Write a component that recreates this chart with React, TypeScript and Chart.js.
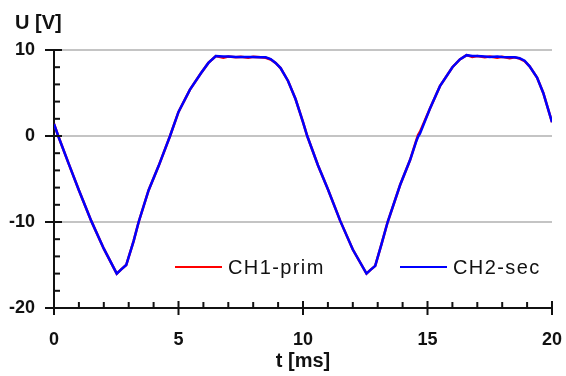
import { useEffect, useRef } from 'react';
import { Chart, registerables } from 'chart.js';

Chart.register(...registerables);

const timeMs = [
  0, 0.17, 0.6, 1.0, 1.5, 2.0, 2.52, 2.7, 2.9, 3.2, 3.4, 3.8, 4.2, 4.66, 5.0, 5.46, 5.9, 6.2, 6.5,
  6.8, 7.0, 7.3, 7.5, 7.8, 8.0, 8.3, 8.5, 8.7, 8.9, 9.1, 9.4, 9.7, 10.0, 10.17, 10.6, 11.0, 11.5, 12.0,
  12.55, 12.7, 12.9, 13.15, 13.4, 13.9, 14.3, 14.55, 14.62, 14.7, 15.1, 15.5, 16.0, 16.3, 16.57,
  16.8, 17.0, 17.3, 17.5, 17.8, 18.0, 18.3, 18.5, 18.7, 18.9, 19.1, 19.4, 19.65, 20.0,
];

const ch1Prim = [
  1.4, 0, -3.3, -6.3, -9.9, -13.1, -16.0, -15.5, -15.0, -12.2, -10.0, -6.3, -3.5, 0, 2.8, 5.4, 7.3, 8.5, 9.3,
  9.1, 9.25, 9.15, 9.2, 9.1, 9.2, 9.15, 9.1, 8.9, 8.5, 7.9, 6.4, 4.3, 1.6, 0, -3.4, -6.2, -9.9, -13.2,
  -16.0, -15.6, -15.1, -12.6, -10.0, -5.7, -2.8, -0.5, 0.1, 0.5, 3.2, 5.8, 8.0, 8.9, 9.4,
  9.2, 9.3, 9.15, 9.25, 9.1, 9.2, 9.05, 9.15, 9.0, 8.7, 8.1, 6.8, 5.0, 1.6,
];

const ch2Sec = [
  1.4, 0, -3.3, -6.3, -9.9, -13.1, -16.0, -15.5, -15.0, -12.2, -10.0, -6.3, -3.5, 0, 2.8, 5.4, 7.3, 8.5, 9.3,
  9.25, 9.25, 9.2, 9.2, 9.2, 9.2, 9.15, 9.15, 8.95, 8.5, 7.9, 6.4, 4.3, 1.6, 0, -3.4, -6.2, -9.9, -13.2,
  -16.0, -15.6, -15.1, -12.6, -10.0, -5.7, -2.8, -0.6, -0.1, 0.3, 3.2, 5.8, 8.0, 8.9, 9.4,
  9.3, 9.3, 9.25, 9.2, 9.25, 9.2, 9.15, 9.15, 9.05, 8.75, 8.1, 6.8, 5.0, 1.6,
];

const seriesLabels = ['CH1-prim', 'CH2-sec'];
const seriesColors = ['#ff0000', '#0000ff'];
const yMajorTicks = [-20, -10, 0, 10];
const yGridValues = [-10, 0, 10];
const xMajorTicks = [0, 5, 10, 15, 20];
const yTitle = 'U [V]';
const xTitle = 't [ms]';

const FONT = '"Liberation Sans", Arial, sans-serif';

const decorPlugin = {
  id: 'decor',
  afterDraw(chart: any) {
    const { ctx, chartArea, scales } = chart;
    const xs = scales.x;
    const ys = scales.y;
    ctx.save();
    ctx.strokeStyle = '#111';
    ctx.lineWidth = 2;
    ys.ticks.forEach((t: any) => {
      const py = ys.getPixelForValue(t.value);
      const major = yMajorTicks.includes(t.value);
      ctx.beginPath();
      ctx.moveTo(chartArea.left - (major ? 9 : 0), py);
      ctx.lineTo(chartArea.left + (major ? 8 : 6), py);
      ctx.stroke();
    });
    xs.ticks.forEach((t: any) => {
      const px = xs.getPixelForValue(t.value);
      const major = xMajorTicks.includes(t.value);
      ctx.beginPath();
      ctx.moveTo(px, chartArea.bottom + (major ? 7 : 0));
      ctx.lineTo(px, chartArea.bottom - (major ? 7 : 6));
      ctx.stroke();
    });

    ctx.fillStyle = '#111';
    ctx.font = `bold 20px ${FONT}`;
    ctx.textBaseline = 'middle';
    ctx.textAlign = 'left';
    ctx.fillText(yTitle, chartArea.left - 39, chartArea.top - 27);
    ctx.textAlign = 'center';
    ctx.fillText(xTitle, (chartArea.left + chartArea.right) / 2, chartArea.bottom + 53);

    // legend
    const ly = chartArea.bottom - 41;
    const starts = [chartArea.left + 121, chartArea.left + 346];
    ctx.font = `20px ${FONT}`;
    (ctx as any).letterSpacing = '1.4px';
    ctx.textAlign = 'left';
    chart.data.datasets.forEach((ds: any, i: number) => {
      const sx = starts[i];
      ctx.strokeStyle = ds.borderColor;
      ctx.lineWidth = 2;
      ctx.beginPath();
      ctx.moveTo(sx, ly);
      ctx.lineTo(sx + 47, ly);
      ctx.stroke();
      ctx.fillStyle = '#111';
      ctx.fillText(ds.label, sx + 53, ly + 1);
    });
    ctx.restore();
  },
};

export default function App() {
  const ref = useRef<HTMLCanvasElement | null>(null);
  useEffect(() => {
    if (!ref.current) return;
    const chart = new Chart(ref.current, {
      type: 'line',
      data: {
        datasets: [
          {
            label: seriesLabels[0],
            data: timeMs.map((t, i) => ({ x: t, y: ch1Prim[i] })),
            borderColor: seriesColors[0],
            borderWidth: 2.5,
            pointRadius: 0,
            tension: 0,
            order: 1,
          },
          {
            label: seriesLabels[1],
            data: timeMs.map((t, i) => ({ x: t, y: ch2Sec[i] })),
            borderColor: seriesColors[1],
            borderWidth: 2.5,
            pointRadius: 0,
            tension: 0,
            order: 0,
          },
        ],
      },
      options: {
        animation: false,
        responsive: false,
        layout: { padding: { top: 50, right: 14, left: 0, bottom: 0 } },
        plugins: { legend: { display: false }, tooltip: { enabled: false }, title: { display: false } },
        scales: {
          x: {
            type: 'linear',
            min: 0,
            max: 20,
            afterFit: (s: any) => { s.height = 68; s.paddingRight = 0; s.paddingLeft = 0; },
            ticks: {
              stepSize: 1,
              autoSkip: false,
              maxRotation: 0,
              padding: 21,
              color: '#111',
              font: { family: FONT, size: 18, weight: 'bold' },
              callback: (v: any) => (xMajorTicks.includes(Number(v)) ? String(v) : ''),
            },
            grid: { display: false, drawTicks: false },
            border: { display: true, color: '#111', width: 2 },
          },
          y: {
            type: 'linear',
            min: -20,
            max: 10,
            afterFit: (s: any) => { s.width = 54; s.paddingTop = 0; s.paddingBottom = 0; },
            ticks: {
              stepSize: 2,
              autoSkip: false,
              padding: 19,
              color: '#111',
              font: { family: FONT, size: 18, weight: 'bold' },
              callback: (v: any) => (yMajorTicks.includes(Number(v)) ? String(v) : ''),
            },
            grid: {
              drawTicks: false,
              lineWidth: 2,
              color: (c: any) => (yGridValues.includes(c.tick?.value) ? '#c4c4c4' : 'rgba(0,0,0,0)'),
            },
            border: { display: true, color: '#111', width: 2 },
          },
        },
      },
      plugins: [decorPlugin],
    });
    return () => chart.destroy();
  }, []);
  return (
    <div style={{ position: 'fixed', left: 0, top: 0, width: 566, height: 376, background: '#fff' }}>
      <canvas ref={ref} width={566} height={376} style={{ display: 'block' }} />
    </div>
  );
}
